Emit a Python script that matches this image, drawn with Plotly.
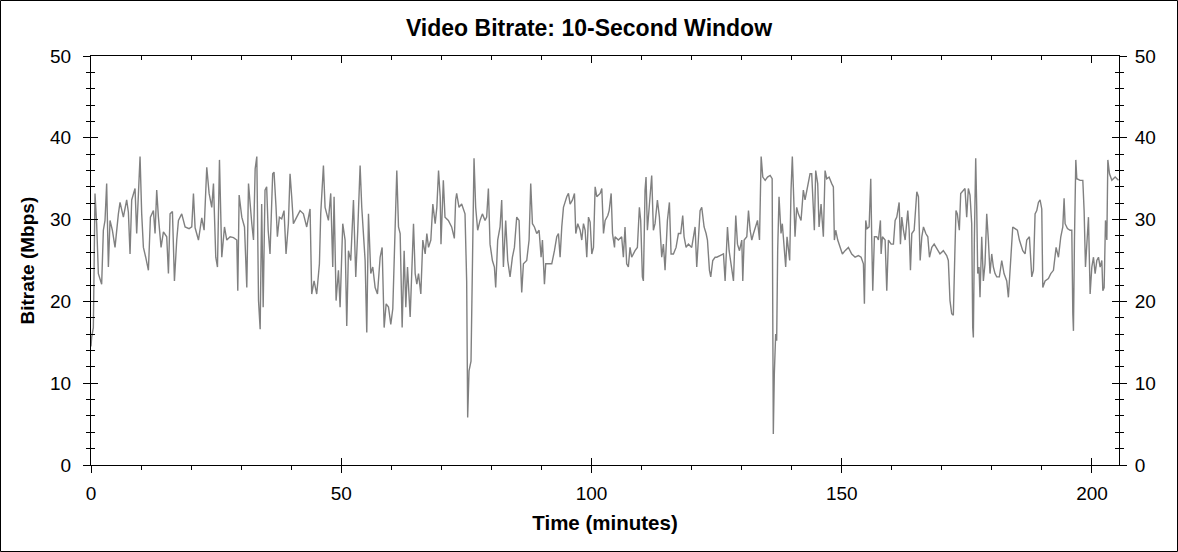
import plotly.graph_objects as go

# readings (time in minutes, bitrate in Mbps)
minutes = [
    0.0, 0.13, 0.47, 0.8, 1.13, 1.47, 2.13, 2.47, 2.8, 3.13, 3.47, 3.8, 4.27, 4.8,
    5.47, 5.8, 6.47, 7.13, 7.47, 7.8, 8.13, 8.8, 9.13, 9.8, 10.13, 10.47, 10.93,
    11.47, 11.87, 12.47, 12.8, 13.13, 13.47, 14.0, 14.47, 15.13, 15.47, 15.8, 16.27,
    16.67, 17.13, 17.47, 18.13, 18.8, 19.6, 20.13, 20.47, 20.8, 21.47, 22.13, 22.6,
    22.93, 23.13, 23.6, 24.13, 24.47, 24.93, 25.27, 25.67, 26.13, 26.67, 27.13, 27.8,
    28.47, 29.13, 29.33, 29.6, 30.13, 30.67, 31.13, 31.47, 32.13, 32.47, 32.8, 33.13,
    33.47, 33.8, 34.1, 34.4, 34.77, 35.1, 35.4, 35.77, 36.3, 36.57, 36.97, 37.24,
    37.64, 38.1, 38.57, 38.97, 39.44, 39.77, 40.1, 40.44, 41.1, 41.77, 42.44, 43.1,
    43.77, 44.1, 44.57, 45.1, 45.64, 45.9, 46.44, 46.77, 47.44, 47.9, 48.3, 48.57,
    48.97, 49.44, 49.77, 50.3, 50.77, 51.1, 51.44, 51.9, 52.44, 52.9, 53.3, 53.77,
    54.1, 54.44, 54.77, 55.1, 55.44, 55.9, 56.3, 56.77, 57.24, 57.77, 58.17, 58.57,
    58.97, 59.44, 59.9, 60.3, 60.77, 61.1, 61.44, 61.77, 62.17, 62.57, 62.9, 63.24,
    63.77, 64.1, 64.44, 64.77, 65.1, 65.44, 65.9, 66.3, 66.77, 67.1, 67.44, 67.9,
    68.3, 68.77, 69.1, 69.44, 69.77, 69.93, 70.4, 70.73, 71.4, 72.06, 72.6, 72.86,
    73.06, 73.53, 74.06, 74.73, 75.06, 75.26, 75.53, 75.93, 76.2, 76.53, 76.86,
    77.26, 77.73, 78.2, 78.73, 79.06, 79.4, 79.73, 80.2, 80.6, 80.86, 81.26, 81.73,
    82.06, 82.4, 82.86, 83.26, 83.73, 84.2, 84.6, 85.06, 85.53, 85.73, 86.06, 86.4,
    87.06, 87.53, 87.86, 88.2, 88.6, 89.06, 89.53, 89.93, 90.2, 90.6, 90.86, 91.4,
    92.06, 92.6, 93.06, 93.4, 93.73, 94.06, 94.4, 95.06, 95.4, 95.73, 96.2, 96.6,
    96.86, 97.26, 97.73, 98.06, 98.4, 98.73, 99.06, 99.4, 99.73, 100.06, 100.4,
    100.73, 101.06, 101.73, 102.06, 102.4, 102.73, 103.26, 103.53, 103.93, 104.2,
    104.6, 104.7, 105.37, 106.03, 106.37, 106.7, 107.03, 107.37, 107.7, 108.03,
    108.7, 109.17, 109.57, 109.83, 110.17, 110.37, 110.7, 110.9, 111.17, 111.57,
    112.03, 112.37, 112.7, 113.17, 113.57, 114.03, 114.37, 114.7, 115.17, 115.57,
    115.9, 116.37, 116.9, 117.37, 117.83, 118.23, 118.5, 118.9, 119.37, 120.03,
    120.7, 121.03, 121.37, 121.7, 122.03, 122.5, 122.9, 123.17, 123.57, 123.83,
    124.23, 124.7, 125.03, 125.7, 126.37, 126.7, 127.17, 127.5, 127.83, 128.37,
    128.83, 129.17, 129.57, 130.03, 130.23, 130.5, 131.03, 131.37, 131.7, 132.03,
    132.37, 132.9, 133.17, 133.57, 133.9, 134.23, 134.7, 135.17, 135.7, 136.1,
    136.33, 136.53, 136.8, 137.0, 137.2, 137.47, 137.87, 138.13, 138.53, 138.8,
    139.07, 139.33, 139.6, 139.87, 140.13, 140.4, 140.67, 141.0, 141.33, 141.87,
    142.33, 142.67, 143.2, 143.67, 144.0, 144.33, 144.53, 144.8, 145.2, 145.47,
    145.87, 146.33, 146.67, 147.0, 147.47, 148.0, 148.33, 148.53, 148.8, 149.2,
    149.67, 150.13, 150.67, 151.33, 152.0, 152.67, 153.33, 153.87, 154.33, 154.53,
    154.8, 155.07, 155.47, 155.8, 156.0, 156.2, 156.53, 157.0, 157.33, 157.73,
    157.87, 158.13, 158.67, 159.0, 159.33, 159.87, 160.33, 160.67, 161.0, 161.47,
    161.73, 162.0, 162.33, 162.67, 163.2, 163.47, 163.73, 164.0, 164.47, 165.0,
    165.33, 165.67, 166.0, 166.33, 166.8, 167.2, 167.53, 168.0, 168.47, 168.97,
    169.63, 170.3, 170.97, 171.3, 171.63, 171.97, 172.3, 172.63, 172.83, 173.1,
    173.5, 173.77, 174.3, 174.63, 174.97, 175.3, 175.63, 175.97, 176.17, 176.3,
    176.5, 176.77, 176.97, 177.17, 177.43, 177.63, 177.97, 178.3, 178.63, 178.97,
    179.3, 179.63, 179.97, 180.3, 180.63, 180.97, 181.5, 181.97, 182.43, 182.97,
    183.3, 183.63, 183.97, 184.17, 184.63, 185.1, 185.5, 185.77, 186.17, 186.63,
    186.97, 187.5, 187.77, 187.97, 188.3, 188.63, 188.97, 189.3, 189.63, 189.97,
    190.17, 190.63, 191.3, 191.77, 192.3, 192.83, 193.3, 193.77, 194.17, 194.43,
    194.63, 195.1, 195.63, 195.97, 196.17, 196.3, 196.5, 196.77, 196.97, 197.63,
    198.17, 198.43, 198.7, 198.97, 199.3, 199.63, 199.97, 200.3, 200.63, 200.97,
    201.3, 201.63, 201.97, 202.17, 202.43, 202.7, 202.97, 203.17, 203.5, 203.97,
    204.63, 205.3,
]

mbps = [
    14.5, 15.6, 16.8, 33.2, 29.5, 23.4, 22.1, 28.7, 29.9, 34.4, 24.2, 29.9, 28.7, 26.6,
    30.7, 32.1, 30.3, 32.4, 30.9, 25.8, 32.4, 33.8, 28.3, 37.7, 30.7, 26.6, 25.4,
    23.8, 30.3, 31.1, 28.3, 33.6, 30.3, 26.6, 28.5, 27.9, 23.4, 30.7, 31.0,
    22.5, 27.5, 29.9, 30.7, 29.1, 28.9, 29.1, 33.2, 29.0, 27.5, 30.2, 28.7,
    34.0, 36.4, 33.2, 31.5, 34.4, 25.4, 24.2, 37.3, 25.4, 29.1, 27.5, 27.9,
    27.8, 27.5, 21.3, 33.0, 30.3, 29.1, 21.7, 34.4, 29.5, 27.5, 36.2, 37.7,
    20.1, 16.6, 31.9, 19.3, 33.6, 34.0, 28.7, 25.8, 35.6, 35.8, 31.5, 27.9,
    30.3, 30.1, 31.1, 25.8, 29.5, 35.6, 32.8, 29.5, 30.3, 31.1, 30.7, 29.1,
    31.3, 20.9, 22.5, 20.9, 24.6, 30.7, 36.6, 31.5, 29.9, 33.2, 24.2, 32.8,
    20.1, 23.8, 19.3, 29.5, 27.5, 17.0, 26.2, 25.0, 32.4, 23.0, 28.7, 36.6,
    31.5, 27.5, 25.0, 16.2, 30.7, 23.4, 24.2, 21.7, 20.9, 25.4, 26.6, 16.8,
    19.7, 19.3, 17.2, 19.1, 29.9, 36.0, 29.1, 28.3, 16.8, 26.2, 19.3, 24.2,
    18.1, 24.2, 29.5, 23.4, 22.1, 23.4, 20.9, 27.5, 25.8, 28.3, 26.6, 27.5,
    31.9, 29.5, 31.5, 36.0, 32.8, 27.0, 34.8, 30.3, 29.9, 29.1, 27.7, 32.4,
    33.2, 31.5, 31.9, 30.7, 22.5, 5.8, 11.5, 12.7, 26.6, 37.5, 31.5,
    28.7, 29.9, 30.7, 29.9, 30.3, 33.8, 27.0, 25.0, 24.2, 21.7, 27.5, 29.1,
    32.4, 24.2, 29.9, 25.0, 23.0, 25.4, 26.6, 30.3, 29.9, 26.2, 21.1, 24.6,
    25.0, 27.5, 34.4, 29.5, 29.1, 28.3, 28.7, 25.4, 27.5, 22.1, 24.6, 24.6,
    24.6, 26.2, 27.9, 28.3, 25.4, 29.1, 31.5, 32.8, 33.2, 31.9, 32.4, 33.2,
    28.3, 29.5, 28.7, 27.5, 29.5, 28.7, 25.4, 30.3, 29.7, 25.8, 26.6,
    34.0, 32.8, 33.2, 33.8, 28.3, 29.9, 30.5, 31.1, 33.2, 28.3,
    26.6, 27.9, 27.5, 27.9, 25.4, 29.1, 24.6, 24.2, 26.6, 25.4,
    26.2, 26.6, 31.5, 29.9, 23.0, 22.5, 33.6, 35.2, 28.7, 31.5,
    35.4, 28.7, 29.5, 32.4, 30.3, 25.4, 27.0, 23.8, 29.9, 32.1,
    25.8, 25.8, 26.6, 28.3, 28.3, 30.5, 27.9, 26.6, 27.0, 26.6,
    29.1, 24.2, 27.9, 31.1, 31.5, 29.1, 28.3, 27.5, 23.8, 23.0,
    25.0, 25.4, 25.4, 25.6, 25.8, 22.5, 29.1, 26.2, 25.0, 22.5,
    30.5, 27.0, 26.2, 27.5, 22.5, 27.5, 27.9, 31.1, 28.7, 27.5,
    28.3, 29.5, 29.9, 27.5, 37.7, 35.2, 34.8, 35.2, 35.4, 35.0,
    3.8, 11.1, 16.0, 15.2, 26.2, 32.8, 28.3, 29.5, 26.2, 24.2,
    27.9, 26.6, 25.0, 33.6, 37.7, 32.8, 27.9, 31.5, 30.7, 29.9,
    33.6, 32.4, 34.4, 35.6, 35.6, 31.1, 28.7, 36.0, 34.4, 29.1,
    31.9, 27.9, 36.0, 35.0, 35.2, 34.4, 34.0, 27.5, 28.7, 27.5,
    26.6, 25.8, 26.2, 26.6, 25.8, 25.4, 25.6, 25.4, 24.6, 19.7,
    29.9, 28.9, 29.1, 35.0, 27.5, 21.3, 27.9, 27.9, 27.5, 29.9,
    25.8, 27.9, 27.5, 21.3, 27.5, 27.0, 27.0, 29.9, 30.3, 32.1,
    27.0, 30.3, 28.7, 27.5, 31.1, 28.7, 23.8, 28.3, 28.7, 33.4,
    32.8, 25.0, 27.9, 29.1, 28.3, 27.9, 25.4, 26.6, 27.0, 26.4,
    25.8, 26.2, 25.6, 25.0, 20.1, 18.5, 18.3, 26.6, 31.1, 30.7,
    28.7, 33.2, 33.6, 33.8, 30.3, 33.8, 33.0, 29.5, 16.8, 15.6,
    27.5, 37.5, 31.5, 23.4, 24.2, 20.5, 27.9, 22.5, 24.6, 30.7,
    27.5, 23.4, 25.8, 24.2, 23.4, 23.0, 23.0, 25.0, 23.4, 22.5,
    20.5, 23.4, 27.5, 29.1, 28.9, 28.7, 27.5, 27.0, 26.2, 25.8,
    27.5, 27.9, 25.0, 23.0, 23.8, 30.7, 31.1, 32.1, 32.4, 31.3,
    21.7, 22.5, 22.8, 23.4, 23.8, 26.6, 25.4, 27.9, 29.1, 32.6,
    29.5, 28.9, 28.7, 28.7, 18.5, 16.4, 27.5, 37.3, 35.0, 34.8,
    34.8, 31.1, 24.2, 26.6, 30.3, 20.9, 24.2, 25.4, 23.4, 25.0,
    25.4, 24.2, 25.0, 21.3, 21.7, 29.9, 27.5, 37.3, 35.6, 34.8,
    35.2, 34.8,
]

x_ticks = [0, 50, 100, 150, 200]
y_ticks = [0, 10, 20, 30, 40, 50]

FONT = "Liberation Sans, Arial, sans-serif"
W, H = 1178, 552
ML, MR, MT, MB = 91, 59, 56, 87
PW, PH = W - ML - MR, H - MT - MB

fig = go.Figure()
fig.add_trace(go.Scatter(x=minutes, y=mbps, mode="lines",
                         line=dict(color="#808080", width=1.4),
                         hoverinfo="x+y", showlegend=False))

# empty traces so the extra tick-only axes get drawn
for xa, ya in [("x2", "y2"), ("x3", "y3"), ("x3", "y4")]:
    fig.add_trace(go.Scatter(x=[0], y=[0], xaxis=xa, yaxis=ya, mode="markers",
                             marker=dict(opacity=0), hoverinfo="skip",
                             showlegend=False))

xr = [0, 205.4]
yr = [0, 50]
base = dict(showgrid=False, zeroline=False, tickcolor="black", tickwidth=1,
            linecolor="black", linewidth=1)

fig.update_layout(
    width=W, height=H,
    margin=dict(l=ML, r=MR, t=MT, b=MB),
    paper_bgcolor="white", plot_bgcolor="white",
    font=dict(family=FONT, color="black", size=19),
    title=dict(text="<b>Video Bitrate: 10-Second Window</b>", x=0.5, xanchor="center",
               y=1 - 28 / H, yanchor="middle", font=dict(size=23, family=FONT)),
    xaxis=dict(base, range=xr, tickvals=x_ticks, ticks="outside", ticklen=7,
               showline=True, ticklabelstandoff=4,
               minor=dict(dtick=10, tick0=0, ticks="outside", ticklen=4,
                          tickcolor="black"),
               title=dict(text="<b>Time (minutes)</b>", font=dict(size=20.5), standoff=12)),
    xaxis2=dict(base, range=xr, overlaying="x", tickvals=x_ticks, ticks="inside",
                ticklen=7, showticklabels=False, showline=False),
    xaxis3=dict(base, range=xr, overlaying="x", side="top", tickvals=x_ticks,
                ticks="inside", ticklen=7, showticklabels=False, showline=True,
                minor=dict(dtick=10, tick0=0, ticks="inside", ticklen=4,
                           tickcolor="black")),
    yaxis=dict(base, range=yr, tickvals=y_ticks, ticks="outside", ticklen=7,
               showline=True, ticklabelstandoff=8,
               minor=dict(dtick=2, tick0=0, ticks="outside", ticklen=4,
                          tickcolor="black")),
    yaxis2=dict(base, range=yr, overlaying="y", side="left", tickvals=y_ticks,
                ticks="inside", ticklen=7, showticklabels=False, showline=False,
                minor=dict(dtick=2, tick0=0, ticks="inside", ticklen=4,
                           tickcolor="black")),
    yaxis3=dict(base, range=yr, overlaying="y", side="right", tickvals=y_ticks,
                ticks="outside", ticklen=7, showline=True, ticklabelstandoff=4,
                minor=dict(dtick=2, tick0=0, ticks="outside", ticklen=4,
                           tickcolor="black")),
    yaxis4=dict(base, range=yr, overlaying="y", side="right", tickvals=y_ticks,
                ticks="inside", ticklen=7, showticklabels=False, showline=False,
                minor=dict(dtick=2, tick0=0, ticks="inside", ticklen=4,
                           tickcolor="black")),
    annotations=[dict(text="<b>Bitrate (Mbps)</b>", textangle=-90, showarrow=False,
                      xref="paper", yref="paper", x=(27 - ML) / PW, y=0.5,
                      xanchor="center", yanchor="middle", font=dict(size=19))],
)

# thin frame round the whole picture
fig.add_shape(type="rect", xref="paper", yref="paper",
              x0=(0.5 - ML) / PW, x1=(W - 0.5 - ML) / PW,
              y0=-(MB - 0.5) / PH, y1=(PH + MT - 0.5) / PH,
              line=dict(color="black", width=1), fillcolor="rgba(0,0,0,0)")

# the page has a default body margin; drop it so the figure sits at 0,0
fig.write_html("out.html", config={"displayModeBar": False},
               post_script="document.body.style.margin='0';")
